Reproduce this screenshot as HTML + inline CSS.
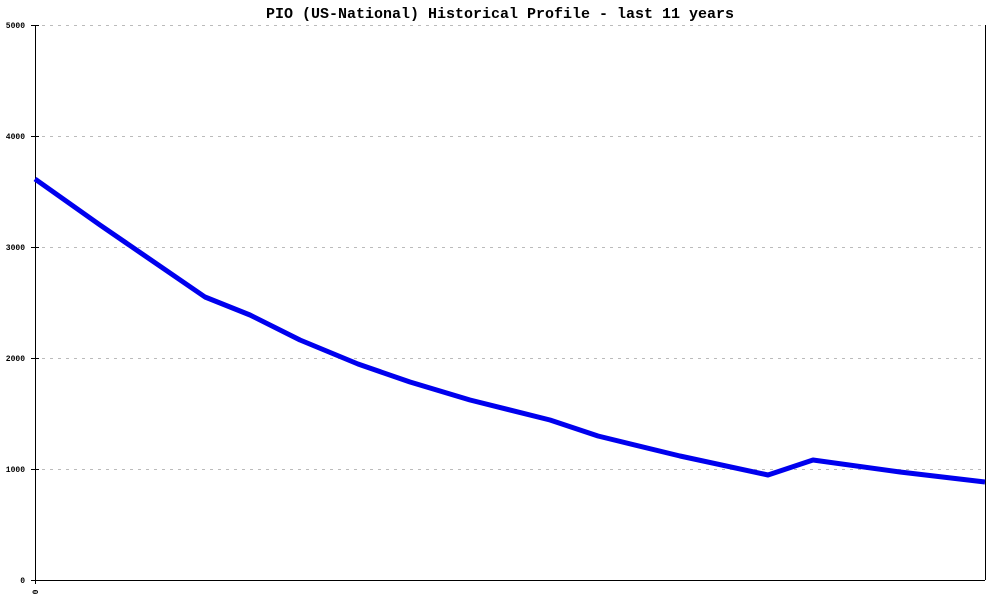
<!DOCTYPE html>
<html><head><style>body{margin:0;background:#fff}</style></head><body>
<svg width="1000" height="600" xmlns="http://www.w3.org/2000/svg" font-family="Liberation Mono, monospace">
<rect width="1000" height="600" fill="#fff"/>
<text x="500" y="18" text-anchor="middle" font-size="15" font-weight="bold">PIO (US-National) Historical Profile - last 11 years</text>
<g stroke="#bbb" stroke-dasharray="3,5" stroke-width="1">
<line x1="42" y1="25.5" x2="985" y2="25.5"/>
<line x1="42" y1="136.5" x2="985" y2="136.5"/>
<line x1="42" y1="247.5" x2="985" y2="247.5"/>
<line x1="42" y1="358.5" x2="985" y2="358.5"/>
<line x1="42" y1="469.5" x2="985" y2="469.5"/>
</g>
<line x1="985.5" y1="25" x2="985.5" y2="580" stroke="#000" stroke-width="1"/>
<g stroke="#000" stroke-width="1">
<line x1="35.5" y1="25" x2="35.5" y2="584"/>
<line x1="31" y1="580.5" x2="985" y2="580.5"/>
<line x1="31" y1="25.5" x2="39" y2="25.5"/>
<line x1="31" y1="136.5" x2="39" y2="136.5"/>
<line x1="31" y1="247.5" x2="39" y2="247.5"/>
<line x1="31" y1="358.5" x2="39" y2="358.5"/>
<line x1="31" y1="469.5" x2="39" y2="469.5"/>
</g>
<g font-size="8" text-anchor="end" font-weight="bold">
<text x="25" y="28">5000</text>
<text x="25" y="139">4000</text>
<text x="25" y="250">3000</text>
<text x="25" y="361">2000</text>
<text x="25" y="472">1000</text>
<text x="25" y="583">0</text>
</g>
<text transform="translate(38,592) rotate(-90)" font-size="8" text-anchor="middle" font-weight="bold">0</text>
<polyline fill="none" stroke="#0000ee" stroke-width="5" stroke-linejoin="round" points="35,179 100,225 205,297 250,315 300,340 358,364 410,382 470,400 550,420 598,436 680,456 768,475 813,460 900,472 985,482"/>
</svg>
</body></html>
